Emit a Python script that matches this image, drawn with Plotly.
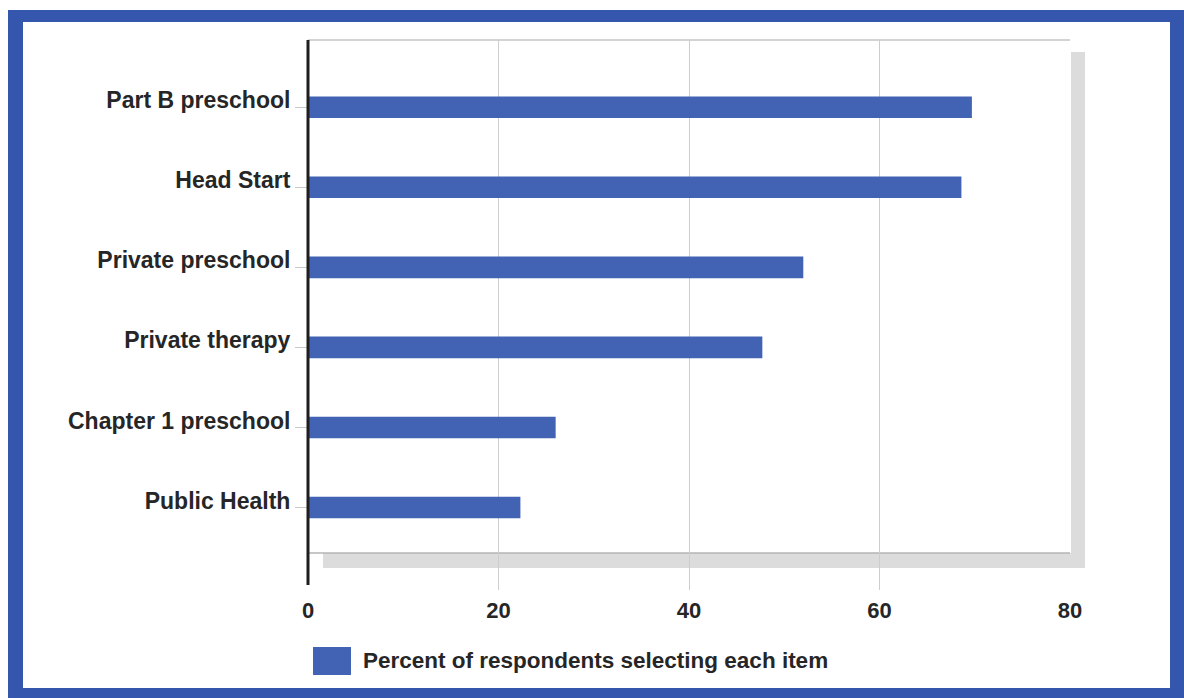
import plotly.graph_objects as go

# Data (bottom to top)
categories = ["Public Health", "Chapter 1 preschool", "Private therapy",
              "Private preschool", "Head Start", "Part B preschool"]
values = [22.3, 26.0, 47.7, 52.0, 68.6, 69.7]
x_ticks = [0, 20, 40, 60, 80]
series_name = "Percent of respondents selecting each item"

W, H = 1184, 698
L, R, T, B = 308, 1070, 40, 590   # plot area in pixels

def fx(px):
    return (px - L) / (R - L)

def fy(py):
    return (B - py) / (B - T)

BAR = "#4262b3"
FRAME = "#3457ad"
TXT = "#262626"
FONT = "Arial, Liberation Sans, sans-serif"

fig = go.Figure()
fig.add_trace(go.Bar(
    x=values, y=categories, orientation="h",
    marker=dict(color=BAR, line=dict(width=0)),
    width=0.27, name=series_name, showlegend=False,
))

shapes = []
# blue frame + white inside
shapes.append(dict(type="rect", xref="paper", yref="paper", layer="below",
                   x0=fx(8), x1=fx(1200), y0=fy(10), y1=fy(712),
                   fillcolor=FRAME, line=dict(width=0)))
shapes.append(dict(type="rect", xref="paper", yref="paper", layer="below",
                   x0=fx(23), x1=fx(1170), y0=fy(22), y1=fy(688),
                   fillcolor="white", line=dict(width=0)))
# gray 3D shadows
shapes.append(dict(type="rect", xref="paper", yref="paper", layer="below",
                   x0=fx(1071), x1=fx(1085), y0=fy(52), y1=fy(568),
                   fillcolor="#dcdcdc", line=dict(width=0)))
shapes.append(dict(type="rect", xref="paper", yref="paper", layer="below",
                   x0=fx(323), x1=fx(1085), y0=fy(553), y1=fy(568),
                   fillcolor="#dcdcdc", line=dict(width=0)))
# thin box lines
shapes.append(dict(type="line", xref="paper", yref="paper", layer="below",
                   x0=fx(308), x1=fx(1070), y0=fy(40), y1=fy(40),
                   line=dict(color="#c4c4c4", width=1.5)))
shapes.append(dict(type="line", xref="paper", yref="paper", layer="below",
                   x0=fx(308), x1=fx(1070), y0=fy(553), y1=fy(553),
                   line=dict(color="#b4b4b4", width=1.5)))
# vertical axis line
shapes.append(dict(type="line", xref="paper", yref="paper", layer="above",
                   x0=fx(308), x1=fx(308), y0=fy(40), y1=fy(585),
                   line=dict(color="#1e1e1e", width=3)))
# legend swatch
shapes.append(dict(type="rect", xref="paper", yref="paper", layer="above",
                   x0=fx(313), x1=fx(351), y0=fy(647), y1=fy(675),
                   fillcolor=BAR, line=dict(width=0)))

annotations = [dict(xref="paper", yref="paper", x=fx(361), y=fy(660),
                    xanchor="left", yanchor="middle", showarrow=False,
                    text="<b>" + series_name + "</b>",
                    font=dict(family=FONT, size=22.5, color=TXT))]

y0 = -1.03
y1 = 5.84

fig.update_layout(
    width=W, height=H,
    margin=dict(l=L, r=W - R, t=T, b=H - B, pad=0),
    paper_bgcolor="white",
    plot_bgcolor="rgba(0,0,0,0)",
    showlegend=False,
    shapes=shapes,
    annotations=annotations,
    font=dict(family=FONT, size=22, color=TXT),
)
fig.update_xaxes(
    range=[0, 80], tickvals=x_ticks,
    ticktext=["<b>%d</b>" % v for v in x_ticks],
    showgrid=True, gridcolor="#cdcdcd", gridwidth=1,
    zeroline=False, showline=False,
    ticks="outside", ticklen=1, tickcolor="rgba(0,0,0,0)",
    tickfont=dict(family=FONT, size=22, color=TXT),
    fixedrange=True,
)
fig.update_yaxes(
    type="category", categoryorder="array", categoryarray=categories,
    range=[y0, y1],
    tickvals=categories,
    ticktext=["<b>%s</b>" % c for c in categories],
    showgrid=False, zeroline=False, showline=False,
    ticks="outside", ticklen=12, tickcolor="#c8c8c8", tickwidth=1,
    ticklabelshift=-7,
    tickfont=dict(family=FONT, size=23, color=TXT),
    fixedrange=True,
)

fig.write_html("out.html")
